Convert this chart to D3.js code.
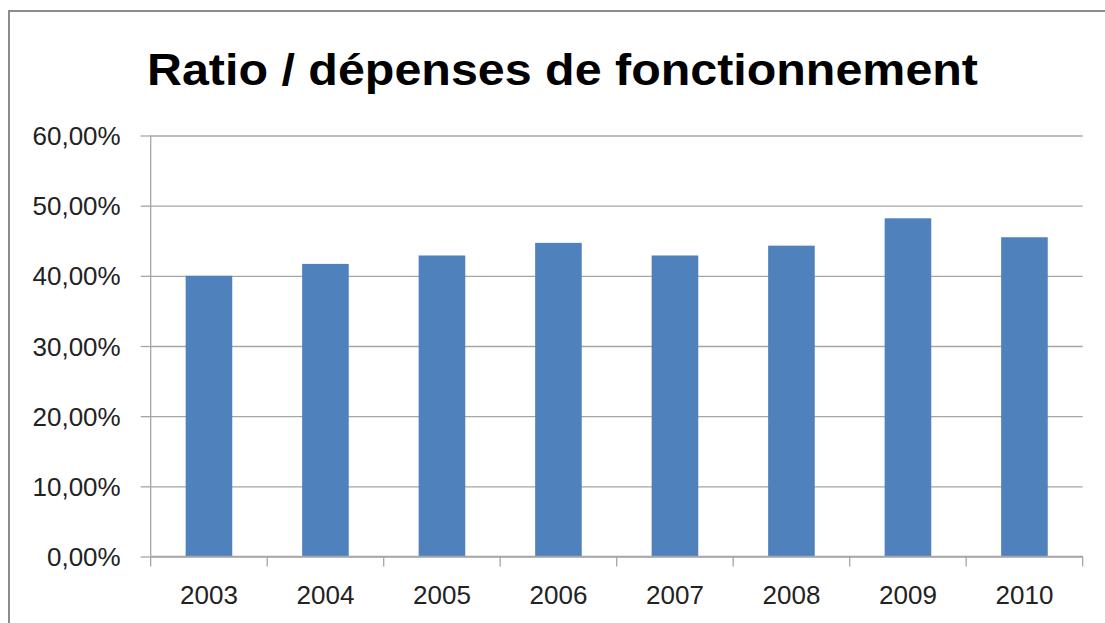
<!DOCTYPE html>
<html>
<head>
<meta charset="utf-8">
<script src="https://cdn.jsdelivr.net/npm/d3@7"></script>
<style>
  body { margin: 0; background: #fff; }
  svg { display: block; font-family: "Liberation Sans", Arial, sans-serif; }
</style>
</head>
<body>
<div id="visualization"></div>
<script>
const years = ["2003", "2004", "2005", "2006", "2007", "2008", "2009", "2010"];
const ratio = [0.400, 0.417, 0.429, 0.447, 0.429, 0.443, 0.482, 0.455];
const yTicks = [0, 0.1, 0.2, 0.3, 0.4, 0.5, 0.6];
const title = "Ratio / dépenses de fonctionnement";

const width = 1105;
const height = 623;
const margin = {top: 135.5, bottom: 66.5, right: 22.3, left: 150.7};

const svg = d3.select("#visualization").append("svg")
  .attr("width", width)
  .attr("height", height)
  .attr("viewBox", [0, 0, width, height]);

// chart frame (only top and left edges are visible)
svg.append("path")
  .attr("d", `M9,${height} V11 H${width}`)
  .attr("fill", "none")
  .attr("stroke", "#8c8c8c")
  .attr("stroke-width", 2);

svg.append("text")
  .attr("x", 147)
  .attr("y", 85)
  .attr("font-size", 45)
  .attr("font-weight", "bold")
  .attr("textLength", 831)
  .attr("lengthAdjust", "spacingAndGlyphs")
  .attr("fill", "#000")
  .text(title);

const x = d3.scaleBand()
  .domain(years)
  .range([margin.left, width - margin.right])
  .paddingInner(0.6)
  .paddingOuter(0.3);

const y = d3.scaleLinear()
  .domain([0, 0.6])
  .range([height - margin.bottom, margin.top]);

const fmt = v => d3.format(".2f")(v * 100).replace(".", ",") + "%";

// y axis with gridlines
const yAxis = svg.append("g")
  .attr("transform", `translate(${margin.left},0)`)
  .call(d3.axisLeft(y).tickValues(yTicks).tickFormat(fmt).tickSize(10).tickPadding(20));
yAxis.selectAll(".tick line").clone()
  .attr("x1", 0)
  .attr("x2", width - margin.left - margin.right);
yAxis.selectAll(".tick line").attr("stroke", "#a6a6a6").attr("stroke-width", 1.3);
yAxis.select(".domain").attr("d", `M0,${margin.top}V${height - margin.bottom}`)
  .attr("stroke", "#a6a6a6").attr("stroke-width", 1.3);
yAxis.selectAll("text")
  .attr("font-size", 26)
  .attr("font-family", "Liberation Sans, Arial, sans-serif")
  .attr("fill", "#222")
  .attr("dy", "0.35em");

// bars
svg.append("g")
  .selectAll("rect")
  .data(years)
  .join("rect")
  .attr("x", (d, i) => x(d))
  .attr("y", (d, i) => y(ratio[i]))
  .attr("width", x.bandwidth())
  .attr("height", (d, i) => y(0) - y(ratio[i]))
  .attr("fill", "#4f81bd");

// x axis: ticks between categories
const step = x.step();
const xAxis = svg.append("g")
  .attr("transform", `translate(0,${height - margin.bottom})`);
xAxis.append("line")
  .attr("x1", margin.left)
  .attr("x2", width - margin.right)
  .attr("stroke", "#a6a6a6")
  .attr("stroke-width", 1.3);
xAxis.selectAll(".sep")
  .data(d3.range(years.length + 1))
  .join("line")
  .attr("class", "sep")
  .attr("x1", i => margin.left + i * step)
  .attr("x2", i => margin.left + i * step)
  .attr("y1", 0)
  .attr("y2", 10)
  .attr("stroke", "#a6a6a6")
  .attr("stroke-width", 1.3);
xAxis.selectAll(".lbl")
  .data(years)
  .join("text")
  .attr("class", "lbl")
  .attr("x", d => x(d) + x.bandwidth() / 2)
  .attr("y", 47)
  .attr("text-anchor", "middle")
  .attr("font-size", 26)
  .attr("fill", "#222")
  .text(d => d);
</script>
</body>
</html>
